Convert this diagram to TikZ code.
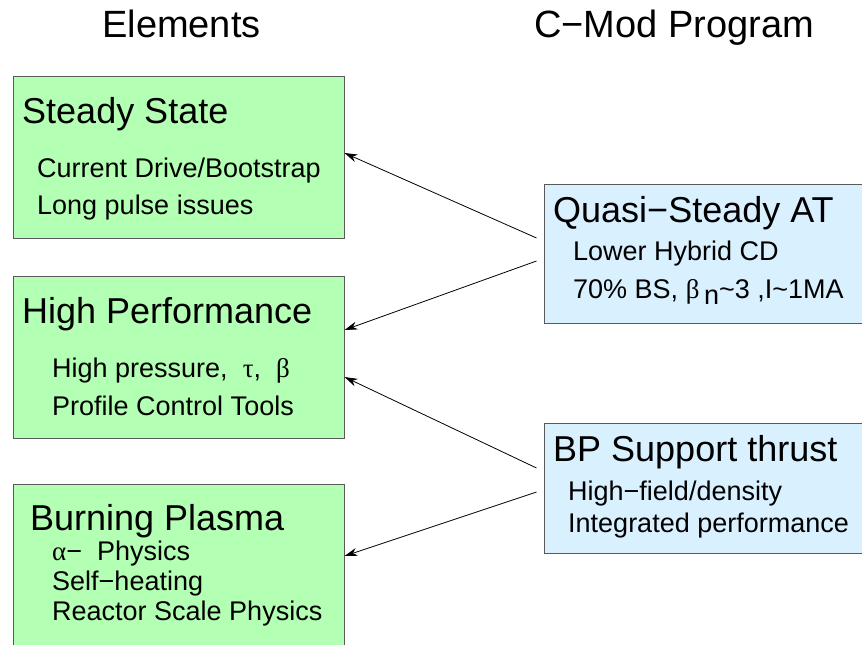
\documentclass[tikz,border=0pt]{standalone}
\usepackage{fontspec}
\setmainfont{Liberation Sans}
\newfontfamily\grk{Liberation Serif}
\usetikzlibrary{arrows.meta}

\definecolor{elemgreen}{RGB}{179,255,179}
\definecolor{progblue}{RGB}{217,240,255}

\tikzset{
  elembox/.style={draw=black!65, fill=elemgreen, line width=1pt, minimum width=331pt, inner sep=0pt},
  progbox/.style={draw=black!65, fill=progblue, line width=1pt, minimum width=326pt, inner sep=0pt},
  head/.style={anchor=base, inner sep=0pt, font=\fontsize{38}{40}\selectfont},
  boxtitle/.style={anchor=base west, inner sep=0pt, font=\fontsize{36}{38}\selectfont},
  item/.style={anchor=base west, inner sep=0pt, font=\fontsize{27}{29}\selectfont},
  link/.style={-{Stealth[length=13pt,width=8pt]}, line width=0.8pt},
}

\begin{document}
\begin{tikzpicture}[x=1pt,y=-1pt]
    \useasboundingbox (0,0) rectangle (862,645);
    \clip (0,0) rectangle (862,645);

    % Titulos
    \node[head] (elemhead) at (181.5,37) {Elements};
    \node[head] (proghead) at (674,37) {C−Mod Program};

    % Cajas verdes (Elements)
    \node[elembox, minimum height=162pt] (steady) at (178.5,157) {};
    \node[elembox, minimum height=162pt] (perf) at (178.5,357) {};
    \node[elembox, minimum height=186pt] (burning) at (178.5,577) {};

    % Cajas azules (C-Mod)
    \node[progbox, minimum height=139pt] (quasi) at (707,253.5) {};
    \node[progbox, minimum height=130pt] (bpsupport) at (707,488) {};

    % Textos Steady State
    \node[boxtitle] (steadytitle) at (22,123) {Steady State};
    \node[item] (steadyA) at (37,177) {Current Drive/Bootstrap};
    \node[item] (steadyB) at (37,214) {Long pulse issues};

    % Textos High Performance
    \node[boxtitle] (perftitle) at (22,323) {High Performance};
    \node[item] (perfA) at (52,377) {High pressure,\ \ {\grk τ},\ \ {\grk β}};
    \node[item] (perfB) at (52,415) {Profile Control Tools};

    % Textos Burning Plasma
    \node[boxtitle] (burntitle) at (30,530) {Burning Plasma};
    \node[item] (burnA) at (52,560) {{\grk α}−\ \ Physics};
    \node[item] (burnB) at (52,590) {Self−heating};
    \node[item] (burnC) at (52,620) {Reactor Scale Physics};

    % Textos Quasi-Steady AT
    \node[boxtitle] (quasititle) at (553,222) {Quasi−Steady AT};
    \node[item] (quasiA) at (573,260) {Lower Hybrid CD};
    \node[item] (quasiB) at (573,298) {70\% BS, {\grk β}\,\raisebox{-6pt}{n}\textasciitilde3 ,I\textasciitilde1MA};

    % Textos BP Support
    \node[boxtitle] (bptitle) at (553,461) {BP Support thrust};
    \node[item] (bpA) at (568,500) {High−field/density};
    \node[item] (bpB) at (568,532) {Integrated performance};

    % Flechas
    \draw[link] ([xshift=-7pt,yshift=15.5pt]quasi.west) -- ([yshift=4pt]steady.east);
    \draw[link] ([xshift=-7pt,yshift=-7.5pt]quasi.west) -- ([yshift=27pt]perf.east);
    \draw[link] ([xshift=-7pt,yshift=20pt]bpsupport.west) -- ([yshift=-20pt]perf.east);
    \draw[link] ([xshift=-7pt,yshift=-4pt]bpsupport.west) -- ([yshift=21pt]burning.east);
\end{tikzpicture}
\end{document}
